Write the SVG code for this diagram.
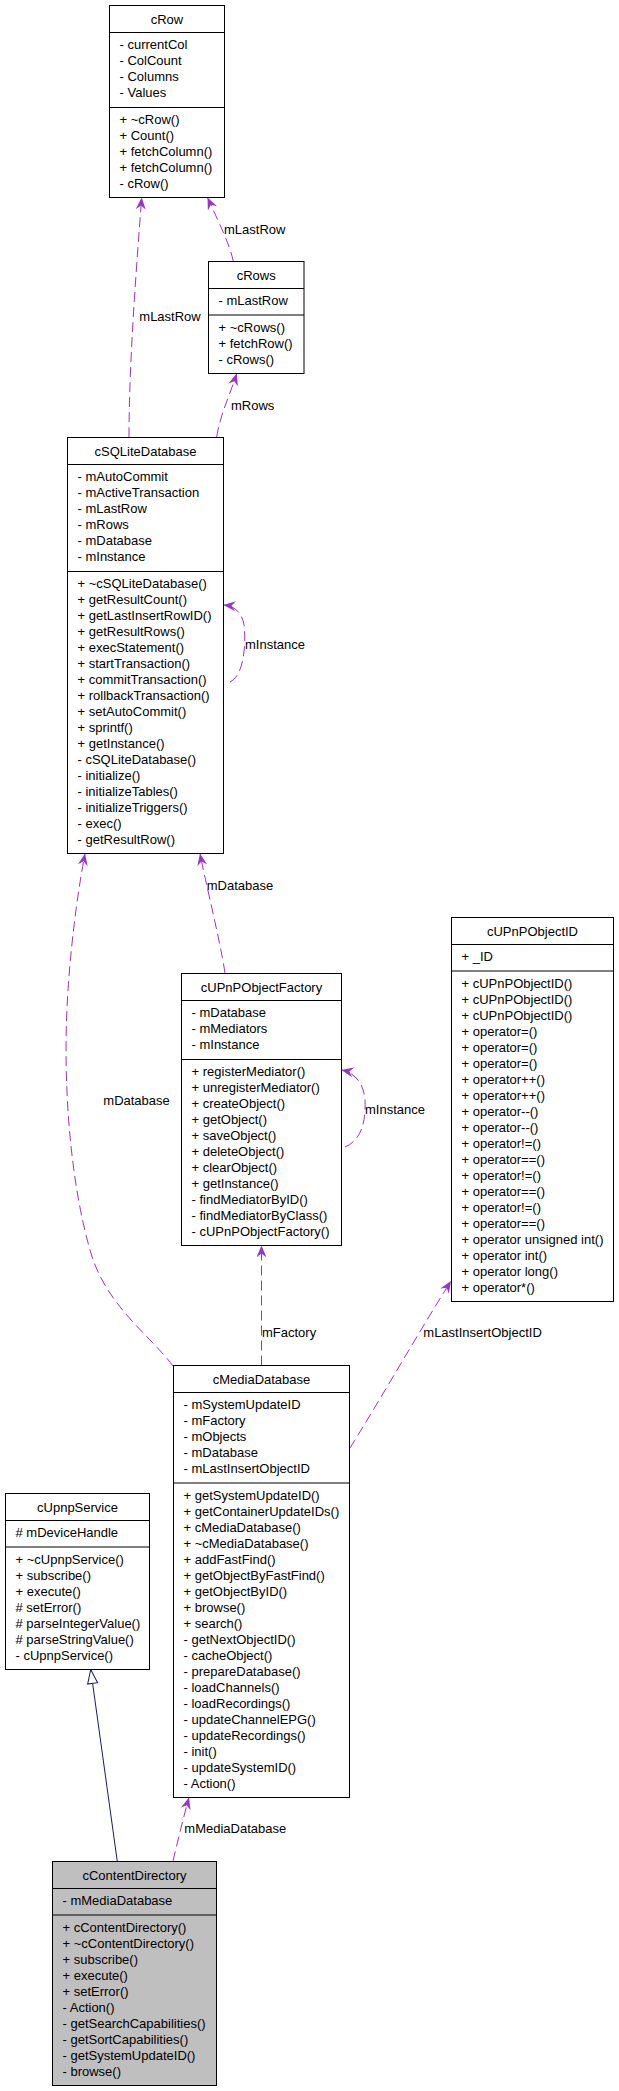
<svg xmlns="http://www.w3.org/2000/svg" width="619" height="2091" viewBox="0 0 619 2091">
<style>
.box{fill:#ffffff;stroke:#000000;stroke-width:1}
.cur{fill:#bfbfbf;stroke:#000000;stroke-width:1}
.sep{stroke:#000000;stroke-width:1}
text{font-family:"Liberation Sans",Arial,Helvetica,sans-serif;font-size:13px;fill:#000000}
.nm{text-anchor:middle}
.use{fill:none;stroke:#9a32cd;stroke-width:1;stroke-dasharray:10,5}
.inh{fill:none;stroke:#191970;stroke-width:1}
</style>
<defs>
<marker id="vee" markerUnits="userSpaceOnUse" markerWidth="12" markerHeight="10" viewBox="0 0 12 10" refX="12" refY="5" orient="auto">
<path d="M0,0 L12,5 L0,10 L4,5 Z" fill="#9a32cd" stroke="none"/>
</marker>
<marker id="tri" markerUnits="userSpaceOnUse" markerWidth="16" markerHeight="12" viewBox="-1 -1 16 12" refX="14" refY="5" orient="auto">
<path d="M0,0 L14,5 L0,10 Z" fill="#ffffff" stroke="#191970" stroke-width="1"/>
</marker>
</defs>

<g id="connectors">
<path class="use" d="M129,437 C129,360 137,260 141.7,197.5" marker-end="url(#vee)"/>
<path class="use" d="M233.3,261.5 C230,245 220,225 207.5,197.5" marker-end="url(#vee)"/>
<path class="use" d="M216.7,437 C220,415 230,395 236.7,373.5" marker-end="url(#vee)"/>
<path class="use" d="M230,682 C245,675 246,640 244,625 C242,612 234,606 223.5,605" marker-end="url(#vee)"/>
<path class="use" d="M225,973 C220,940 205,880 200,853.5" marker-end="url(#vee)"/>
<path class="use" d="M345,1147 C362,1140 366,1120 365,1100 C364,1085 356,1073 341.5,1070" marker-end="url(#vee)"/>
<path class="use" d="M173,1366 C150,1335 105,1305 90,1250 C70,1180 62,1080 68,990 C72,930 80,880 85,853.5" marker-end="url(#vee)"/>
<path class="use" d="M261.5,1365.5 L261.5,1245.5" marker-end="url(#vee)"/>
<path class="use" d="M350,1448 C380,1400 420,1330 451,1281" marker-end="url(#vee)"/>
<path class="use" d="M173,1861 C178,1840 184,1815 189,1797.5" marker-end="url(#vee)"/>
<path class="inh" d="M117.3,1861.5 L90.7,1669.5" marker-end="url(#tri)"/>
<text x="224" y="233.7">mLastRow</text>
<text x="139.3" y="321.4">mLastRow</text>
<text x="231" y="409.7">mRows</text>
<text x="245" y="649">mInstance</text>
<text x="206.7" y="889.7">mDatabase</text>
<text x="365" y="1114">mInstance</text>
<text x="103.3" y="1104.7">mDatabase</text>
<text x="262" y="1337.4">mFactory</text>
<text x="423.3" y="1337.4">mLastInsertObjectID</text>
<text x="184.3" y="1833.4">mMediaDatabase</text>
</g>

<g id="cRow">
<rect class="box" x="109.5" y="5.5" width="115" height="192"/>
<line class="sep" x1="109.5" y1="32.5" x2="224.5" y2="32.5"/>
<line class="sep" x1="109.5" y1="107.5" x2="224.5" y2="107.5"/>
<text class="nm" x="167" y="23.5">cRow</text>
<text x="119.5" y="49">- currentCol<tspan x="119.5" dy="16">- ColCount</tspan><tspan x="119.5" dy="16">- Columns</tspan><tspan x="119.5" dy="16">- Values</tspan></text>
<text x="119.5" y="124">+ ~cRow()<tspan x="119.5" dy="16">+ Count()</tspan><tspan x="119.5" dy="16">+ fetchColumn()</tspan><tspan x="119.5" dy="16">+ fetchColumn()</tspan><tspan x="119.5" dy="16">- cRow()</tspan></text>
</g>

<g id="cRows">
<rect class="box" x="208.5" y="261.5" width="95.5" height="112"/>
<line class="sep" x1="208.5" y1="288.5" x2="304" y2="288.5"/>
<line class="sep" x1="208.5" y1="315" x2="304" y2="315"/>
<text class="nm" x="256.25" y="279.5">cRows</text>
<text x="218.5" y="305">- mLastRow</text>
<text x="218.5" y="331.5">+ ~cRows()<tspan x="218.5" dy="16">+ fetchRow()</tspan><tspan x="218.5" dy="16">- cRows()</tspan></text>
</g>

<g id="cSQLiteDatabase">
<rect class="box" x="67.5" y="437.5" width="156" height="416"/>
<line class="sep" x1="67.5" y1="464.5" x2="223.5" y2="464.5"/>
<line class="sep" x1="67.5" y1="571.5" x2="223.5" y2="571.5"/>
<text class="nm" x="145.5" y="455.5">cSQLiteDatabase</text>
<text x="77.5" y="481">- mAutoCommit<tspan x="77.5" dy="16">- mActiveTransaction</tspan><tspan x="77.5" dy="16">- mLastRow</tspan><tspan x="77.5" dy="16">- mRows</tspan><tspan x="77.5" dy="16">- mDatabase</tspan><tspan x="77.5" dy="16">- mInstance</tspan></text>
<text x="77.5" y="588">+ ~cSQLiteDatabase()<tspan x="77.5" dy="16">+ getResultCount()</tspan><tspan x="77.5" dy="16">+ getLastInsertRowID()</tspan><tspan x="77.5" dy="16">+ getResultRows()</tspan><tspan x="77.5" dy="16">+ execStatement()</tspan><tspan x="77.5" dy="16">+ startTransaction()</tspan><tspan x="77.5" dy="16">+ commitTransaction()</tspan><tspan x="77.5" dy="16">+ rollbackTransaction()</tspan><tspan x="77.5" dy="16">+ setAutoCommit()</tspan><tspan x="77.5" dy="16">+ sprintf()</tspan><tspan x="77.5" dy="16">+ getInstance()</tspan><tspan x="77.5" dy="16">- cSQLiteDatabase()</tspan><tspan x="77.5" dy="16">- initialize()</tspan><tspan x="77.5" dy="16">- initializeTables()</tspan><tspan x="77.5" dy="16">- initializeTriggers()</tspan><tspan x="77.5" dy="16">- exec()</tspan><tspan x="77.5" dy="16">- getResultRow()</tspan></text>
</g>

<g id="cUPnPObjectFactory">
<rect class="box" x="181.5" y="973.5" width="160" height="272"/>
<line class="sep" x1="181.5" y1="1000.5" x2="341.5" y2="1000.5"/>
<line class="sep" x1="181.5" y1="1059.5" x2="341.5" y2="1059.5"/>
<text class="nm" x="261.5" y="991.5">cUPnPObjectFactory</text>
<text x="191.5" y="1017">- mDatabase<tspan x="191.5" dy="16">- mMediators</tspan><tspan x="191.5" dy="16">- mInstance</tspan></text>
<text x="191.5" y="1076">+ registerMediator()<tspan x="191.5" dy="16">+ unregisterMediator()</tspan><tspan x="191.5" dy="16">+ createObject()</tspan><tspan x="191.5" dy="16">+ getObject()</tspan><tspan x="191.5" dy="16">+ saveObject()</tspan><tspan x="191.5" dy="16">+ deleteObject()</tspan><tspan x="191.5" dy="16">+ clearObject()</tspan><tspan x="191.5" dy="16">+ getInstance()</tspan><tspan x="191.5" dy="16">- findMediatorByID()</tspan><tspan x="191.5" dy="16">- findMediatorByClass()</tspan><tspan x="191.5" dy="16">- cUPnPObjectFactory()</tspan></text>
</g>

<g id="cUPnPObjectID">
<rect class="box" x="451.5" y="917.5" width="162" height="384"/>
<line class="sep" x1="451.5" y1="944.5" x2="613.5" y2="944.5"/>
<line class="sep" x1="451.5" y1="971" x2="613.5" y2="971"/>
<text class="nm" x="532.5" y="935.5">cUPnPObjectID</text>
<text x="461.5" y="961">+ _ID</text>
<text x="461.5" y="987.5">+ cUPnPObjectID()<tspan x="461.5" dy="16">+ cUPnPObjectID()</tspan><tspan x="461.5" dy="16">+ cUPnPObjectID()</tspan><tspan x="461.5" dy="16">+ operator=()</tspan><tspan x="461.5" dy="16">+ operator=()</tspan><tspan x="461.5" dy="16">+ operator=()</tspan><tspan x="461.5" dy="16">+ operator++()</tspan><tspan x="461.5" dy="16">+ operator++()</tspan><tspan x="461.5" dy="16">+ operator--()</tspan><tspan x="461.5" dy="16">+ operator--()</tspan><tspan x="461.5" dy="16">+ operator!=()</tspan><tspan x="461.5" dy="16">+ operator==()</tspan><tspan x="461.5" dy="16">+ operator!=()</tspan><tspan x="461.5" dy="16">+ operator==()</tspan><tspan x="461.5" dy="16">+ operator!=()</tspan><tspan x="461.5" dy="16">+ operator==()</tspan><tspan x="461.5" dy="16">+ operator unsigned int()</tspan><tspan x="461.5" dy="16">+ operator int()</tspan><tspan x="461.5" dy="16">+ operator long()</tspan><tspan x="461.5" dy="16">+ operator*()</tspan></text>
</g>

<g id="cMediaDatabase">
<rect class="box" x="173.5" y="1365.5" width="176" height="432"/>
<line class="sep" x1="173.5" y1="1392.5" x2="349.5" y2="1392.5"/>
<line class="sep" x1="173.5" y1="1483" x2="349.5" y2="1483"/>
<text class="nm" x="261.5" y="1383.5">cMediaDatabase</text>
<text x="183.5" y="1409">- mSystemUpdateID<tspan x="183.5" dy="16">- mFactory</tspan><tspan x="183.5" dy="16">- mObjects</tspan><tspan x="183.5" dy="16">- mDatabase</tspan><tspan x="183.5" dy="16">- mLastInsertObjectID</tspan></text>
<text x="183.5" y="1499.5">+ getSystemUpdateID()<tspan x="183.5" dy="16">+ getContainerUpdateIDs()</tspan><tspan x="183.5" dy="16">+ cMediaDatabase()</tspan><tspan x="183.5" dy="16">+ ~cMediaDatabase()</tspan><tspan x="183.5" dy="16">+ addFastFind()</tspan><tspan x="183.5" dy="16">+ getObjectByFastFind()</tspan><tspan x="183.5" dy="16">+ getObjectByID()</tspan><tspan x="183.5" dy="16">+ browse()</tspan><tspan x="183.5" dy="16">+ search()</tspan><tspan x="183.5" dy="16">- getNextObjectID()</tspan><tspan x="183.5" dy="16">- cacheObject()</tspan><tspan x="183.5" dy="16">- prepareDatabase()</tspan><tspan x="183.5" dy="16">- loadChannels()</tspan><tspan x="183.5" dy="16">- loadRecordings()</tspan><tspan x="183.5" dy="16">- updateChannelEPG()</tspan><tspan x="183.5" dy="16">- updateRecordings()</tspan><tspan x="183.5" dy="16">- init()</tspan><tspan x="183.5" dy="16">- updateSystemID()</tspan><tspan x="183.5" dy="16">- Action()</tspan></text>
</g>

<g id="cUpnpService">
<rect class="box" x="5.5" y="1493.5" width="144" height="176"/>
<line class="sep" x1="5.5" y1="1520.5" x2="149.5" y2="1520.5"/>
<line class="sep" x1="5.5" y1="1547" x2="149.5" y2="1547"/>
<text class="nm" x="77.5" y="1511.5">cUpnpService</text>
<text x="15.5" y="1537"># mDeviceHandle</text>
<text x="15.5" y="1563.5">+ ~cUpnpService()<tspan x="15.5" dy="16">+ subscribe()</tspan><tspan x="15.5" dy="16">+ execute()</tspan><tspan x="15.5" dy="16"># setError()</tspan><tspan x="15.5" dy="16"># parseIntegerValue()</tspan><tspan x="15.5" dy="16"># parseStringValue()</tspan><tspan x="15.5" dy="16">- cUpnpService()</tspan></text>
</g>

<g id="cContentDirectory">
<rect class="cur" x="52.5" y="1861.5" width="164" height="224"/>
<line class="sep" x1="52.5" y1="1888.5" x2="216.5" y2="1888.5"/>
<line class="sep" x1="52.5" y1="1915" x2="216.5" y2="1915"/>
<text class="nm" x="134.5" y="1879.5">cContentDirectory</text>
<text x="62.5" y="1905">- mMediaDatabase</text>
<text x="62.5" y="1931.5">+ cContentDirectory()<tspan x="62.5" dy="16">+ ~cContentDirectory()</tspan><tspan x="62.5" dy="16">+ subscribe()</tspan><tspan x="62.5" dy="16">+ execute()</tspan><tspan x="62.5" dy="16">+ setError()</tspan><tspan x="62.5" dy="16">- Action()</tspan><tspan x="62.5" dy="16">- getSearchCapabilities()</tspan><tspan x="62.5" dy="16">- getSortCapabilities()</tspan><tspan x="62.5" dy="16">- getSystemUpdateID()</tspan><tspan x="62.5" dy="16">- browse()</tspan></text>
</g>
</svg>
